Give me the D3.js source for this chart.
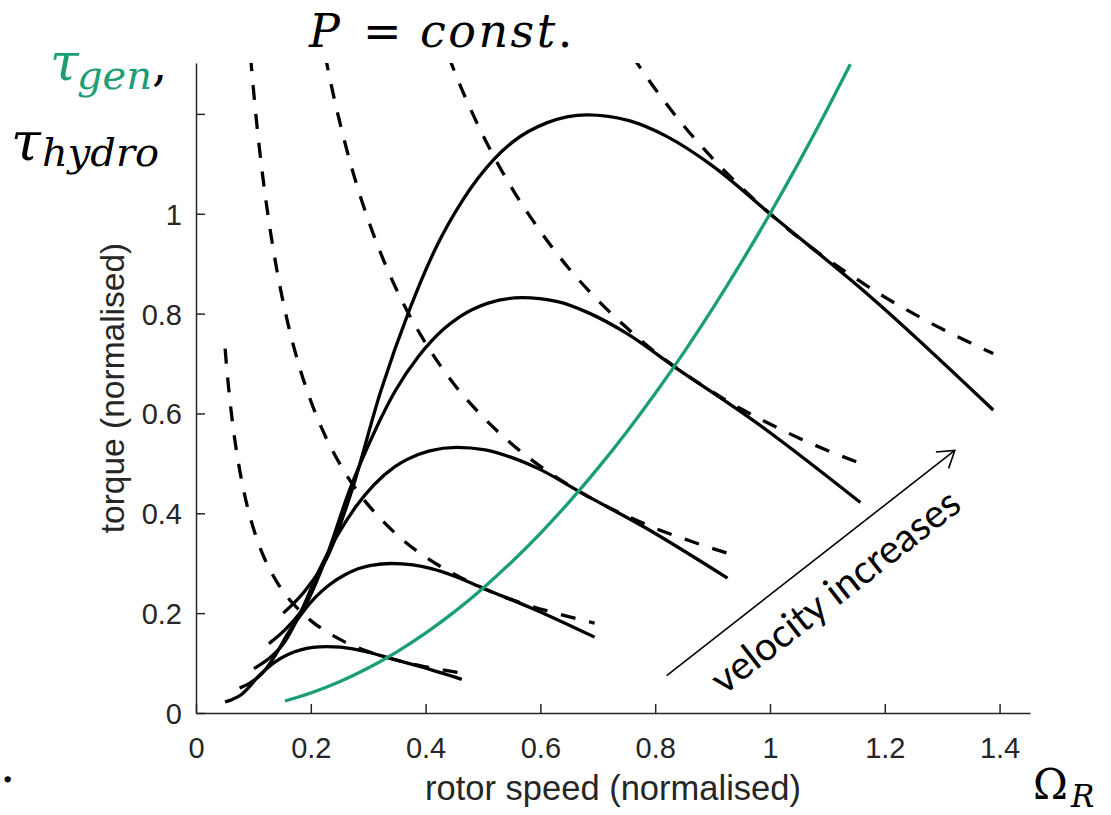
<!DOCTYPE html>
<html>
<head>
<meta charset="utf-8">
<script src="https://cdn.jsdelivr.net/npm/d3@7"></script>
<style>
	body { margin: 0; background: #fff; }
</style>
</head>
<body>
<div id="graph"></div>
<script>

// hydrodynamic torque for five flow velocities (solid)
var hydroTorque1 = [[0.0507, 0.0222], [0.0633, 0.0272], [0.0767, 0.035], [0.09, 0.0489], [0.1073, 0.0717], [0.124, 0.0898], [0.1393, 0.1036], [0.155, 0.1142], [0.173, 0.1232], [0.184, 0.1271], [0.2037, 0.1313], [0.227, 0.1331], [0.252, 0.1318], [0.2733, 0.1283], [0.3003, 0.1217], [0.3333, 0.1111], [0.3913, 0.0928], [0.463, 0.0674]]
var hydroTorque2 = [[0.076, 0.05], [0.095, 0.061], [0.115, 0.079], [0.135, 0.11], [0.161, 0.161], [0.186, 0.202], [0.209, 0.233], [0.2325, 0.257], [0.2595, 0.277], [0.276, 0.286], [0.3055, 0.2955], [0.3405, 0.2995], [0.378, 0.2965], [0.41, 0.289], [0.4505, 0.274], [0.5, 0.25], [0.587, 0.209], [0.6945, 0.152]]
var hydroTorque3 = [[0.101, 0.089], [0.127, 0.109], [0.153, 0.14], [0.18, 0.196], [0.215, 0.287], [0.248, 0.359], [0.279, 0.414], [0.31, 0.457], [0.346, 0.493], [0.368, 0.508], [0.407, 0.525], [0.454, 0.532], [0.504, 0.527], [0.547, 0.513], [0.601, 0.487], [0.667, 0.444], [0.783, 0.371], [0.926, 0.27]]
var hydroTorque4 = [[0.127, 0.139], [0.158, 0.17], [0.192, 0.219], [0.225, 0.306], [0.268, 0.448], [0.31, 0.561], [0.348, 0.647], [0.3875, 0.714], [0.4325, 0.77], [0.46, 0.794], [0.509, 0.821], [0.5675, 0.832], [0.63, 0.824], [0.683, 0.802], [0.751, 0.76], [0.833, 0.694], [0.978, 0.58], [1.1575, 0.4215]]
var hydroTorque5 = [[0.152, 0.2], [0.19, 0.245], [0.23, 0.315], [0.27, 0.44], [0.322, 0.645], [0.372, 0.808], [0.418, 0.932], [0.465, 1.028], [0.519, 1.109], [0.552, 1.144], [0.611, 1.182], [0.681, 1.198], [0.756, 1.186], [0.82, 1.155], [0.901, 1.095], [1.0, 1.0], [1.174, 0.835], [1.389, 0.607]]

// constant power lines (dashed)
var powerLine1 = [[0.0507, 0.73], [0.055, 0.673], [0.06, 0.617], [0.065, 0.569], [0.07, 0.529], [0.08, 0.463], [0.09, 0.411], [0.1, 0.37], [0.11, 0.336], [0.12, 0.308], [0.14, 0.264], [0.16, 0.231], [0.18, 0.206], [0.2, 0.185], [0.23, 0.161], [0.26, 0.142], [0.3, 0.123], [0.34, 0.109], [0.39, 0.095], [0.463, 0.08]]
var powerLine2 = [[0.095, 1.316], [0.1, 1.25], [0.11, 1.136], [0.12, 1.042], [0.13, 0.962], [0.14, 0.893], [0.16, 0.781], [0.18, 0.694], [0.2, 0.625], [0.22, 0.568], [0.25, 0.5], [0.28, 0.446], [0.32, 0.391], [0.36, 0.347], [0.4, 0.3125], [0.45, 0.278], [0.5, 0.25], [0.56, 0.223], [0.62, 0.202], [0.6945, 0.18]]
var powerLine3 = [[0.225, 1.317], [0.24, 1.235], [0.26, 1.14], [0.28, 1.058], [0.3, 0.988], [0.33, 0.898], [0.36, 0.823], [0.4, 0.741], [0.45, 0.658], [0.5, 0.593], [0.55, 0.539], [0.6, 0.494], [0.65, 0.456], [0.7, 0.423], [0.75, 0.395], [0.8, 0.37], [0.86, 0.345], [0.926, 0.32]]
var powerLine4 = [[0.44, 1.315], [0.47, 1.231], [0.5, 1.157], [0.55, 1.052], [0.6, 0.965], [0.65, 0.89], [0.7, 0.827], [0.75, 0.772], [0.8, 0.723], [0.85, 0.681], [0.9, 0.643], [0.95, 0.609], [1.0, 0.579], [1.05, 0.551], [1.1, 0.526], [1.1575, 0.5]]
var powerLine5 = [[0.76, 1.316], [0.8, 1.25], [0.85, 1.176], [0.9, 1.111], [0.95, 1.053], [1.0, 1.0], [1.05, 0.952], [1.1, 0.909], [1.15, 0.87], [1.2, 0.833], [1.25, 0.8], [1.3, 0.769], [1.35, 0.741], [1.389, 0.72]]

// generator torque (green)
var genTorque = [[0.155, 0.024], [0.2, 0.04], [0.25, 0.0625], [0.3, 0.09], [0.35, 0.1225], [0.4, 0.16], [0.45, 0.2025], [0.5, 0.25], [0.55, 0.3025], [0.6, 0.36], [0.65, 0.4225], [0.7, 0.49], [0.75, 0.5625], [0.8, 0.64], [0.85, 0.7225], [0.9, 0.81], [0.95, 0.9025], [1.0, 1.0], [1.05, 1.1025], [1.1, 1.21], [1.14, 1.2996]]

var xTicks = [0, 0.2, 0.4, 0.6, 0.8, 1, 1.2, 1.4]
var xTickLabels = ['0', '0.2', '0.4', '0.6', '0.8', '1', '1.2', '1.4']
var yTicks = [0, 0.2, 0.4, 0.6, 0.8, 1, 1.2]
var yTickLabels = ['0', '0.2', '0.4', '0.6', '0.8', '1', '']

// arrow annotation, data coordinates [from, to]
var velocityArrow = [[0.82, 0.075], [1.322, 0.526]]

var hydroCurves = [hydroTorque1, hydroTorque2, hydroTorque3, hydroTorque4, hydroTorque5]
var powerCurves = [powerLine1, powerLine2, powerLine3, powerLine4, powerLine5]

var width = 1111
	, height = 815
	, axisColor = '#262626'
	, genColor = '#1b9e77'
	, mathFont = '"DejaVu Serif", serif'
	, tickFont = '"Liberation Sans", Arial, sans-serif'
	, x = d3.scaleLinear()
		.domain([0, 1.453])
		.range([196, 1030])
	, y = d3.scaleLinear()
		.domain([0, 1.302])
		.range([713, 63])
	, line = d3.line()
		.x(function(d) { return x(d[0]) })
		.y(function(d) { return y(d[1]) })
		.curve(d3.curveMonotoneX)

var svg = d3.select('#graph')
	.append('svg')
	  .attr('width', width)
	  .attr('height', height)
	  .style('display', 'block')

svg.append('rect')
	.attr('width', width)
	.attr('height', height)
	.attr('fill', '#fff')

svg.append('clipPath')
	.attr('id', 'plotClip')
	.append('rect')
	  .attr('x', 0)
	  .attr('y', y(1.302))
	  .attr('width', width)
	  .attr('height', y(0) - y(1.302) + 20)

/****************************************
 *
 * axes
 *
 ****************************************/

var xAxis = svg.append('g')
	.attr('transform', 'translate(0,' + y(0) + ')')
	.call(d3.axisBottom(x)
		.tickValues(xTicks)
		.tickFormat(function(d, i) { return xTickLabels[i] })
		.tickSizeInner(-9)
		.tickSizeOuter(0)
		.tickPadding(24))

var yAxis = svg.append('g')
	.attr('transform', 'translate(' + x(0) + ',0)')
	.call(d3.axisLeft(y)
		.tickValues(yTicks)
		.tickFormat(function(d, i) { return yTickLabels[i] })
		.tickSizeInner(-9)
		.tickSizeOuter(0)
		.tickPadding(14))

svg.selectAll('.domain, .tick line')
	.attr('stroke', axisColor)
	.attr('stroke-width', 1.5)

svg.selectAll('.tick text')
	.attr('fill', axisColor)
	.style('font-family', tickFont)
	.style('font-size', '29px')

yAxis.selectAll('.tick text').attr('dy', '0.36em')

svg.append('text')
	.attr('x', (x.range()[0] + x.range()[1]) / 2)
	.attr('y', 800)
	.attr('text-anchor', 'middle')
	.attr('fill', axisColor)
	.style('font-family', tickFont)
	.style('font-size', '34.5px')
	.text('rotor speed (normalised)')

svg.append('text')
	.attr('transform', 'translate(124,' + ((y.range()[0] + y.range()[1]) / 2) + ') rotate(-90)')
	.attr('text-anchor', 'middle')
	.attr('fill', axisColor)
	.style('font-family', tickFont)
	.style('font-size', '33.5px')
	.text('torque (normalised)')

/****************************************
 *
 * curves
 *
 ****************************************/

var plot = svg.append('g')
	.attr('clip-path', 'url(#plotClip)')
	.attr('fill', 'none')

plot.selectAll('.power')
	.data(powerCurves)
	.join('path')
	  .attr('class', 'power')
	  .attr('d', line)
	  .attr('stroke', '#000')
	  .attr('stroke-width', 3.3)
	  .attr('stroke-dasharray', '15,14')

plot.selectAll('.hydro')
	.data(hydroCurves)
	.join('path')
	  .attr('class', 'hydro')
	  .attr('d', line)
	  .attr('stroke', '#000')
	  .attr('stroke-width', 3.3)

plot.append('path')
	.datum(genTorque)
	.attr('d', line)
	.attr('stroke', genColor)
	.attr('stroke-width', 3.3)

/****************************************
 *
 * annotations
 *
 ****************************************/

var a0 = [x(velocityArrow[0][0]), y(velocityArrow[0][1])]
	, a1 = [x(velocityArrow[1][0]), y(velocityArrow[1][1])]
	, ang = Math.atan2(a1[1] - a0[1], a1[0] - a0[0])
	, headLen = 19
	, headAng = 33 * Math.PI / 180

svg.append('path')
	.attr('d', 'M' + a0 + 'L' + a1
		+ 'M' + [a1[0] - headLen * Math.cos(ang - headAng), a1[1] - headLen * Math.sin(ang - headAng)]
		+ 'L' + a1
		+ 'L' + [a1[0] - headLen * Math.cos(ang + headAng), a1[1] - headLen * Math.sin(ang + headAng)])
	.attr('fill', 'none')
	.attr('stroke', '#000')
	.attr('stroke-width', 1.6)

// text runs parallel to the arrow, a bit below it
var mid = [(a0[0] + a1[0]) / 2, (a0[1] + a1[1]) / 2]
	, off = 52
	, textPos = [mid[0] - off * Math.sin(ang) + 1, mid[1] + off * Math.cos(ang) - 2]

svg.append('text')
	.attr('transform', 'translate(' + textPos + ') rotate(' + (ang * 180 / Math.PI) + ')')
	.attr('text-anchor', 'middle')
	.attr('fill', '#000')
	.style('font-family', 'Lato, "Open Sans", sans-serif')
	.style('font-size', '39.5px')
	.text('velocity increases')

// math labels
var pConst = svg.append('text')
	.attr('y', 47)
	.style('font-family', mathFont)
	.style('font-size', '46px')
	.attr('fill', '#000')
pConst.append('tspan').attr('x', 309).style('font-style', 'italic').text('P')
pConst.append('tspan').attr('x', 363).text('=')
pConst.append('tspan').attr('x', 420).style('font-style', 'italic').style('letter-spacing', '2.5px').text('const')
pConst.append('tspan').text('.')

var tauGen = svg.append('text')
	.style('font-family', mathFont)
	.style('font-style', 'italic')
tauGen.append('tspan').attr('x', 50).attr('y', 80).attr('fill', genColor).style('font-size', '52px').text('τ')
tauGen.append('tspan').attr('x', 77).attr('y', 89).attr('fill', genColor).style('font-size', '40px').text('gen')
tauGen.append('tspan').attr('x', 152).attr('y', 80).attr('fill', '#000').style('font-size', '48px').style('font-style', 'normal').text(',')

var tauHydro = svg.append('text')
	.style('font-family', mathFont)
	.style('font-style', 'italic')
	.attr('fill', '#000')
tauHydro.append('tspan').attr('x', 11).attr('y', 160).style('font-size', '54px').text('τ')
tauHydro.append('tspan').attr('x', 42).attr('y', 166).style('font-size', '40px').text('hydro')

var omega = svg.append('text')
	.style('font-family', mathFont)
	.attr('fill', '#000')
omega.append('tspan').attr('x', 1033).attr('y', 799).style('font-size', '42px').text('Ω')
omega.append('tspan').attr('x', 1071).attr('y', 807).style('font-size', '31px').style('font-style', 'italic').text('R')

svg.append('text')
	.attr('x', 0)
	.attr('y', 782)
	.style('font-family', mathFont)
	.style('font-size', '48px')
	.text('.')

</script>
</body>
</html>
